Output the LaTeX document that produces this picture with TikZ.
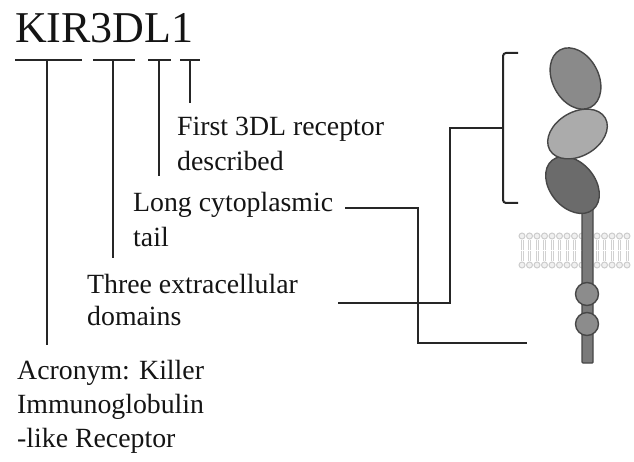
\documentclass[tikz,border=0pt]{standalone}
\usepackage{fontspec}
\setmainfont{Liberation Serif}
\begin{document}
\begin{tikzpicture}[x=1pt,y=-1pt,
  lbl/.style={anchor=base west,inner sep=0pt,font=\fontsize{27.8}{33}\selectfont,text=black!92},
  ttl/.style={anchor=base west,inner sep=0pt,font=\fontsize{44}{50}\selectfont,text=black!92},
  lead/.style={line width=2pt,draw=black!85},
  protdom/.style={draw=black!72,line width=1.4pt},
  lipid/.style={draw=black!18,line width=1pt},
  headg/.style={draw=black!20,line width=1pt,fill=black!6}]
\useasboundingbox (0,0) rectangle (634,462);

% ---- gene name and its labels ----
\node[ttl] (name) at (15,43) {KIR3DL1};

\node[lbl] (first1) at (177,136) {First 3DL receptor};
\node[lbl] (first2) at (177,171) {described};
\node[lbl] (long1)  at (133,212) {Long cytoplasmic};
\node[lbl] (long2)  at (133,247) {tail};
\node[lbl] (three1) at (87,293)  {Three extracellular};
\node[lbl] (three2) at (87,325)  {domains};
\node[lbl] (acr1)   at (17,379)  {Acronym: Killer};
\node[lbl] (acr2)   at (17,413)  {Immunoglobulin};
\node[lbl] (acr3)   at (17,447)  {-like Receptor};

% underline segments below the name
\coordinate (s1a) at (15,60);  \coordinate (s1b) at (82,60);
\coordinate (s2a) at (93,60);  \coordinate (s2b) at (135,60);
\coordinate (s3a) at (148,60); \coordinate (s3b) at (171,60);
\coordinate (s4a) at (180,60); \coordinate (s4b) at (200,60);
\draw[lead] (s1a) -- (s1b);
\draw[lead] (s2a) -- (s2b);
\draw[lead] (s3a) -- (s3b);
\draw[lead] (s4a) -- (s4b);

% drops from each segment to its explanation
\coordinate (k1) at (47,60);  \coordinate (k1e) at (47,345);
\coordinate (k2) at (113,60); \coordinate (k2e) at (113,258);
\coordinate (k3) at (159,60); \coordinate (k3e) at (159,176);
\coordinate (k4) at (190,60); \coordinate (k4e) at (190,103);
\draw[lead] (k1) -- (k1e);
\draw[lead] (k2) -- (k2e);
\draw[lead] (k3) -- (k3e);
\draw[lead] (k4) -- (k4e);

% ---- membrane bilayer ----
\foreach \x in {522,529.5,...,634} {
  \draw[lipid] (\x-1,240) -- (\x-1,250) (\x+1,240) -- (\x+1,250);
  \draw[lipid] (\x-1,251) -- (\x-1,261) (\x+1,251) -- (\x+1,261);
  \draw[headg] (\x,236) circle (3);
  \draw[headg] (\x,265) circle (3);
}

% ---- receptor ----
\draw[protdom,fill=black!52,rounded corners=1pt] (582,200) rectangle (593,363);
\draw[protdom,fill=black!45] (587,294) circle (11.5);
\draw[protdom,fill=black!45] (587,324) circle (11.5);
\draw[protdom,fill=black!58,shift={(572.5,185)},rotate=-50] (0,0) ellipse [x radius=32, y radius=22.5];
\draw[protdom,fill=black!33,shift={(577.5,134)},rotate=30]  (0,0) ellipse [x radius=32, y radius=22];
\draw[protdom,fill=black!46,shift={(575.5,78.5)},rotate=-62] (0,0) ellipse [x radius=32.5, y radius=23];

% bracket over the extracellular part
\coordinate (bt) at (518,53);
\coordinate (bb) at (518,203);
\coordinate (bm) at (503,128);
\draw[lead,rounded corners=3pt] (bt) -- (503,53) -- (503,203) -- (bb);

% ---- leaders from the labels to the receptor ----
\coordinate (tailend) at (527,343);
\draw[lead] (long1.base east) ++(12,-4) -- (418,208) -- (418,343) -- (tailend);
\draw[lead] (three1.base east) ++(40,10) -- (450,303) -- (450,128) -- (bm);
\end{tikzpicture}
\end{document}
